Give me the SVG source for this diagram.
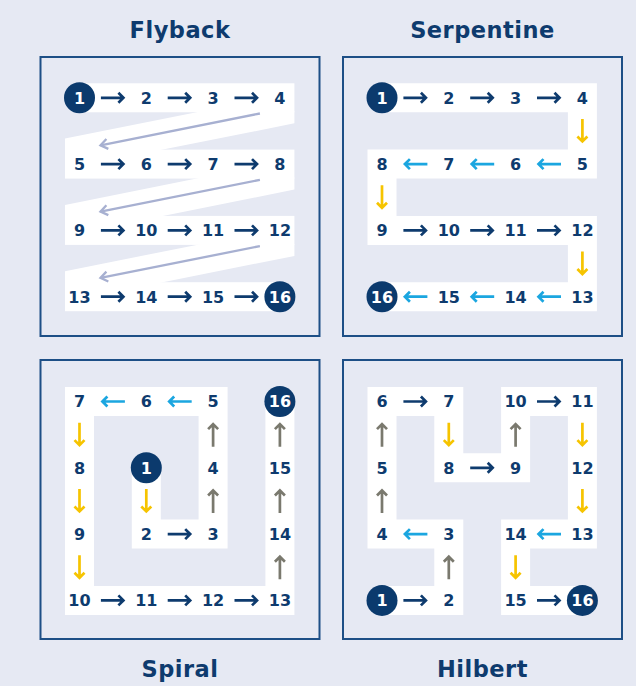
<svg xmlns="http://www.w3.org/2000/svg" xmlns:xlink="http://www.w3.org/1999/xlink" width="636" height="686" viewBox="0 0 636 686">
<style>
.bg{fill:#E6E9F3}
.panel{fill:#E6E9F3;stroke:#1D4F86;stroke-width:2}
.band{fill:#FFFFFF}
.path{fill:none;stroke:#FFFFFF;stroke-width:29;stroke-linejoin:miter;stroke-linecap:butt}
.t{font-family:"DejaVu Sans","Liberation Sans",sans-serif;font-weight:bold;font-size:22.5px;fill:#0E3B6E;text-anchor:middle;letter-spacing:0.5px}
.n{font-family:"DejaVu Sans","Liberation Sans",sans-serif;font-weight:bold;font-size:16px;fill:#0E3B6E;text-anchor:middle}
.w{fill:#FFFFFF}
.c{fill:#0B3A6D}
use{fill:none;stroke-width:2.7;stroke-linejoin:miter;stroke-linecap:butt}
.nv{stroke:#0E3B6E}
.cy{stroke:#1BA6E0}
.ye{stroke:#F6C400}
.gr{stroke:#7A796E}
.dg{fill:none;stroke:#A7B0D1;stroke-width:2.3}
</style>
<defs>
<path id="ah" d="M-12,0H10M5.5,-5L10.5,0L5.5,5"/>
<marker id="dh" markerUnits="userSpaceOnUse" viewBox="-10 -8 14 16" refX="0" refY="0" markerWidth="14" markerHeight="16" orient="auto" overflow="visible">
<path d="M7,-5L0,0L7,5" fill="none" stroke="#A7B0D1" stroke-width="2.3" transform="rotate(180)"/>
</marker>
</defs>
<rect class="bg" x="0" y="0" width="636" height="686"/>

<!-- titles -->
<text class="t" x="180" y="38.3">Flyback</text>
<text class="t" x="482.5" y="38.3">Serpentine</text>
<text class="t" x="180" y="676.7">Spiral</text>
<text class="t" x="482.5" y="676.7">Hilbert</text>

<!-- panels -->
<rect class="panel" x="40.5" y="57" width="279" height="279"/>
<rect class="panel" x="343" y="57" width="279" height="279"/>
<rect class="panel" x="40.5" y="360" width="279" height="279"/>
<rect class="panel" x="343" y="360" width="279" height="279"/>

<!-- white paths -->
<g id="flyback-path">
<rect class="band" x="79.5" y="83.3" width="214.9" height="29"/>
<rect class="band" x="65" y="149.6" width="229.4" height="29"/>
<rect class="band" x="65" y="215.9" width="229.4" height="29"/>
<rect class="band" x="65" y="282.2" width="214.9" height="29"/>
<polygon class="band" points="201.5,111.3 294.4,111.3 294.4,123.3 157.9,150.6 65,150.6 65,138.6"/>
<polygon class="band" points="201.5,177.6 294.4,177.6 294.4,189.6 157.9,216.9 65,216.9 65,204.9"/>
<polygon class="band" points="201.5,243.9 294.4,243.9 294.4,255.9 157.9,283.2 65,283.2 65,271.2"/>
</g>
<path id="serpentine-path" class="path" d="M382,97.8H582.4V164.1H382V230.4H582.4V296.7H382"/>
<path id="spiral-path" class="path" d="M146.3,467.8V534.1H213.1V401.5H79.5V600.4H279.9V401.5"/>
<path id="hilbert-path" class="path" d="M382,600.4H448.8V534.1H382V401.5H448.8V467.8H515.6V401.5H582.4V534.1H515.6V600.4H582.4"/>

<!-- connectors -->
<g id="connectors">
<!-- flyback -->
<use href="#ah" class="nv" transform="translate(112.9,97.8)"/>
<use href="#ah" class="nv" transform="translate(179.7,97.8)"/>
<use href="#ah" class="nv" transform="translate(246.5,97.8)"/>
<use href="#ah" class="nv" transform="translate(112.9,164.1)"/>
<use href="#ah" class="nv" transform="translate(179.7,164.1)"/>
<use href="#ah" class="nv" transform="translate(246.5,164.1)"/>
<use href="#ah" class="nv" transform="translate(112.9,230.4)"/>
<use href="#ah" class="nv" transform="translate(179.7,230.4)"/>
<use href="#ah" class="nv" transform="translate(246.5,230.4)"/>
<use href="#ah" class="nv" transform="translate(112.9,296.7)"/>
<use href="#ah" class="nv" transform="translate(179.7,296.7)"/>
<use href="#ah" class="nv" transform="translate(246.5,296.7)"/>
<path class="dg" d="M259.9,113.5L100.5,145.3" marker-end="url(#dh)"/>
<path class="dg" d="M259.9,179.8L100.5,211.6" marker-end="url(#dh)"/>
<path class="dg" d="M259.9,246.1L100.5,277.9" marker-end="url(#dh)"/>
<!-- serpentine -->
<use href="#ah" class="nv" transform="translate(415.4,97.8)"/>
<use href="#ah" class="nv" transform="translate(482.2,97.8)"/>
<use href="#ah" class="nv" transform="translate(549,97.8)"/>
<use href="#ah" class="ye" transform="translate(582.4,130.95) rotate(90)"/>
<use href="#ah" class="cy" transform="translate(549,164.1) rotate(180)"/>
<use href="#ah" class="cy" transform="translate(482.2,164.1) rotate(180)"/>
<use href="#ah" class="cy" transform="translate(415.4,164.1) rotate(180)"/>
<use href="#ah" class="ye" transform="translate(382,197.25) rotate(90)"/>
<use href="#ah" class="nv" transform="translate(415.4,230.4)"/>
<use href="#ah" class="nv" transform="translate(482.2,230.4)"/>
<use href="#ah" class="nv" transform="translate(549,230.4)"/>
<use href="#ah" class="ye" transform="translate(582.4,263.55) rotate(90)"/>
<use href="#ah" class="cy" transform="translate(549,296.7) rotate(180)"/>
<use href="#ah" class="cy" transform="translate(482.2,296.7) rotate(180)"/>
<use href="#ah" class="cy" transform="translate(415.4,296.7) rotate(180)"/>
<!-- spiral -->
<use href="#ah" class="ye" transform="translate(146.3,500.95) rotate(90)"/>
<use href="#ah" class="nv" transform="translate(179.7,534.1)"/>
<use href="#ah" class="gr" transform="translate(213.1,500.95) rotate(-90)"/>
<use href="#ah" class="gr" transform="translate(213.1,434.65) rotate(-90)"/>
<use href="#ah" class="cy" transform="translate(179.7,401.5) rotate(180)"/>
<use href="#ah" class="cy" transform="translate(112.9,401.5) rotate(180)"/>
<use href="#ah" class="ye" transform="translate(79.5,434.65) rotate(90)"/>
<use href="#ah" class="ye" transform="translate(79.5,500.95) rotate(90)"/>
<use href="#ah" class="ye" transform="translate(79.5,567.25) rotate(90)"/>
<use href="#ah" class="nv" transform="translate(112.9,600.4)"/>
<use href="#ah" class="nv" transform="translate(179.7,600.4)"/>
<use href="#ah" class="nv" transform="translate(246.5,600.4)"/>
<use href="#ah" class="gr" transform="translate(279.9,567.25) rotate(-90)"/>
<use href="#ah" class="gr" transform="translate(279.9,500.95) rotate(-90)"/>
<use href="#ah" class="gr" transform="translate(279.9,434.65) rotate(-90)"/>
<!-- hilbert -->
<use href="#ah" class="nv" transform="translate(415.4,600.4)"/>
<use href="#ah" class="gr" transform="translate(448.8,567.25) rotate(-90)"/>
<use href="#ah" class="cy" transform="translate(415.4,534.1) rotate(180)"/>
<use href="#ah" class="gr" transform="translate(382,500.95) rotate(-90)"/>
<use href="#ah" class="gr" transform="translate(382,434.65) rotate(-90)"/>
<use href="#ah" class="nv" transform="translate(415.4,401.5)"/>
<use href="#ah" class="ye" transform="translate(448.8,434.65) rotate(90)"/>
<use href="#ah" class="nv" transform="translate(482.2,467.8)"/>
<use href="#ah" class="gr" transform="translate(515.6,434.65) rotate(-90)"/>
<use href="#ah" class="nv" transform="translate(549,401.5)"/>
<use href="#ah" class="ye" transform="translate(582.4,434.65) rotate(90)"/>
<use href="#ah" class="ye" transform="translate(582.4,500.95) rotate(90)"/>
<use href="#ah" class="cy" transform="translate(549,534.1) rotate(180)"/>
<use href="#ah" class="ye" transform="translate(515.6,567.25) rotate(90)"/>
<use href="#ah" class="nv" transform="translate(549,600.4)"/>
</g>

<!-- nodes: flyback -->
<g id="fly-1"><circle class="c" cx="79.5" cy="97.8" r="15.5"/><text class="n w" x="79.5" y="103.6">1</text></g>
<g id="fly-2"><text class="n" x="146.3" y="103.6">2</text></g>
<g id="fly-3"><text class="n" x="213.1" y="103.6">3</text></g>
<g id="fly-4"><text class="n" x="279.9" y="103.6">4</text></g>
<g id="fly-5"><text class="n" x="79.5" y="169.9">5</text></g>
<g id="fly-6"><text class="n" x="146.3" y="169.9">6</text></g>
<g id="fly-7"><text class="n" x="213.1" y="169.9">7</text></g>
<g id="fly-8"><text class="n" x="279.9" y="169.9">8</text></g>
<g id="fly-9"><text class="n" x="79.5" y="236.2">9</text></g>
<g id="fly-10"><text class="n" x="146.3" y="236.2">10</text></g>
<g id="fly-11"><text class="n" x="213.1" y="236.2">11</text></g>
<g id="fly-12"><text class="n" x="279.9" y="236.2">12</text></g>
<g id="fly-13"><text class="n" x="79.5" y="302.5">13</text></g>
<g id="fly-14"><text class="n" x="146.3" y="302.5">14</text></g>
<g id="fly-15"><text class="n" x="213.1" y="302.5">15</text></g>
<g id="fly-16"><circle class="c" cx="279.9" cy="296.7" r="15.5"/><text class="n w" x="279.9" y="302.5">16</text></g>

<!-- nodes: serpentine -->
<g id="ser-1"><circle class="c" cx="382" cy="97.8" r="15.5"/><text class="n w" x="382" y="103.6">1</text></g>
<g id="ser-2"><text class="n" x="448.8" y="103.6">2</text></g>
<g id="ser-3"><text class="n" x="515.6" y="103.6">3</text></g>
<g id="ser-4"><text class="n" x="582.4" y="103.6">4</text></g>
<g id="ser-5"><text class="n" x="582.4" y="169.9">5</text></g>
<g id="ser-6"><text class="n" x="515.6" y="169.9">6</text></g>
<g id="ser-7"><text class="n" x="448.8" y="169.9">7</text></g>
<g id="ser-8"><text class="n" x="382" y="169.9">8</text></g>
<g id="ser-9"><text class="n" x="382" y="236.2">9</text></g>
<g id="ser-10"><text class="n" x="448.8" y="236.2">10</text></g>
<g id="ser-11"><text class="n" x="515.6" y="236.2">11</text></g>
<g id="ser-12"><text class="n" x="582.4" y="236.2">12</text></g>
<g id="ser-13"><text class="n" x="582.4" y="302.5">13</text></g>
<g id="ser-14"><text class="n" x="515.6" y="302.5">14</text></g>
<g id="ser-15"><text class="n" x="448.8" y="302.5">15</text></g>
<g id="ser-16"><circle class="c" cx="382" cy="296.7" r="15.5"/><text class="n w" x="382" y="302.5">16</text></g>

<!-- nodes: spiral -->
<g id="spi-1"><circle class="c" cx="146.3" cy="467.8" r="15.5"/><text class="n w" x="146.3" y="473.6">1</text></g>
<g id="spi-2"><text class="n" x="146.3" y="539.9">2</text></g>
<g id="spi-3"><text class="n" x="213.1" y="539.9">3</text></g>
<g id="spi-4"><text class="n" x="213.1" y="473.6">4</text></g>
<g id="spi-5"><text class="n" x="213.1" y="407.3">5</text></g>
<g id="spi-6"><text class="n" x="146.3" y="407.3">6</text></g>
<g id="spi-7"><text class="n" x="79.5" y="407.3">7</text></g>
<g id="spi-8"><text class="n" x="79.5" y="473.6">8</text></g>
<g id="spi-9"><text class="n" x="79.5" y="539.9">9</text></g>
<g id="spi-10"><text class="n" x="79.5" y="606.2">10</text></g>
<g id="spi-11"><text class="n" x="146.3" y="606.2">11</text></g>
<g id="spi-12"><text class="n" x="213.1" y="606.2">12</text></g>
<g id="spi-13"><text class="n" x="279.9" y="606.2">13</text></g>
<g id="spi-14"><text class="n" x="279.9" y="539.9">14</text></g>
<g id="spi-15"><text class="n" x="279.9" y="473.6">15</text></g>
<g id="spi-16"><circle class="c" cx="279.9" cy="401.5" r="15.5"/><text class="n w" x="279.9" y="407.3">16</text></g>

<!-- nodes: hilbert -->
<g id="hil-1"><circle class="c" cx="382" cy="600.4" r="15.5"/><text class="n w" x="382" y="606.2">1</text></g>
<g id="hil-2"><text class="n" x="448.8" y="606.2">2</text></g>
<g id="hil-3"><text class="n" x="448.8" y="539.9">3</text></g>
<g id="hil-4"><text class="n" x="382" y="539.9">4</text></g>
<g id="hil-5"><text class="n" x="382" y="473.6">5</text></g>
<g id="hil-6"><text class="n" x="382" y="407.3">6</text></g>
<g id="hil-7"><text class="n" x="448.8" y="407.3">7</text></g>
<g id="hil-8"><text class="n" x="448.8" y="473.6">8</text></g>
<g id="hil-9"><text class="n" x="515.6" y="473.6">9</text></g>
<g id="hil-10"><text class="n" x="515.6" y="407.3">10</text></g>
<g id="hil-11"><text class="n" x="582.4" y="407.3">11</text></g>
<g id="hil-12"><text class="n" x="582.4" y="473.6">12</text></g>
<g id="hil-13"><text class="n" x="582.4" y="539.9">13</text></g>
<g id="hil-14"><text class="n" x="515.6" y="539.9">14</text></g>
<g id="hil-15"><text class="n" x="515.6" y="606.2">15</text></g>
<g id="hil-16"><circle class="c" cx="582.4" cy="600.4" r="15.5"/><text class="n w" x="582.4" y="606.2">16</text></g>
</svg>
